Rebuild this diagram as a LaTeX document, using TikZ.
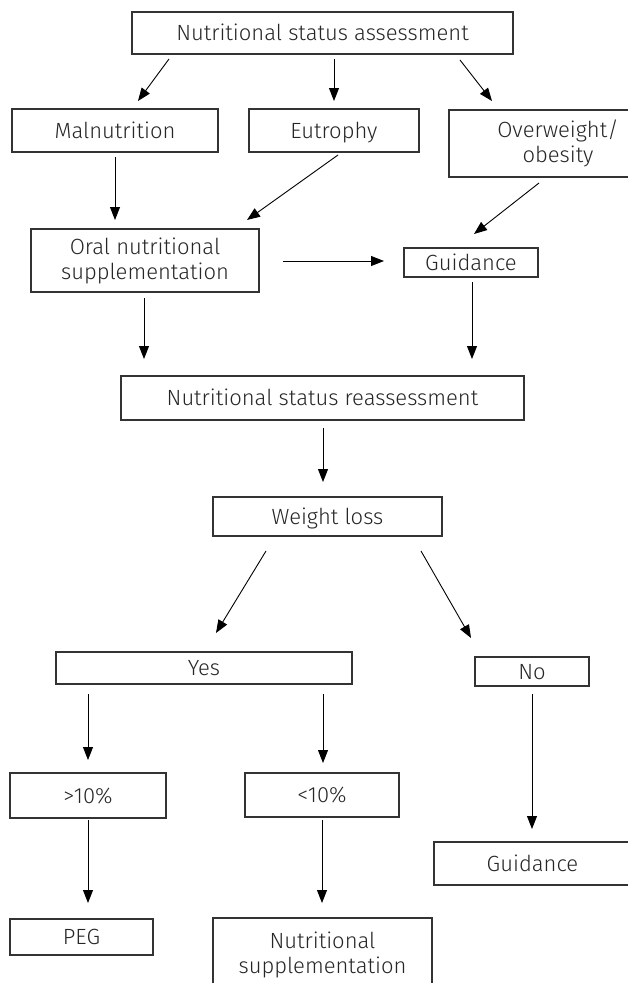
\documentclass[tikz,border=0pt]{standalone}
\usepackage{fontspec}
\setmainfont{Fira Sans}[UprightFont=* Light]
\usetikzlibrary{arrows.meta}
\begin{document}
\begin{tikzpicture}[x=1pt,y=-1pt,
  box/.style={draw=black!80, line width=1.1pt, rectangle, inner sep=0pt, align=center,
    font=\fontsize{22}{25}\selectfont, text=black!85},
  one/.style={box, text height=15pt, text depth=0pt},
  arr/.style={draw=black, line width=0.9pt, -{Triangle[length=13pt,width=10pt]}}]
\useasboundingbox (0,0) rectangle (627,983);
\fill[white] (0,0) rectangle (627,983);

% nodes
\node[one, minimum width=381pt, minimum height=42pt] (top) at (322.5,33) {Nutritional status assessment};
\node[one, minimum width=206pt, minimum height=43pt] (mal) at (115,130.5) {Malnutrition};
\node[one, minimum width=170pt, minimum height=43pt] (eut) at (334,130.5) {Eutrophy};
\node[box, minimum width=218pt, minimum height=67pt] (ovw) at (558,143.5) {Overweight/\\obesity};
\node[box, minimum width=228pt, minimum height=63pt] (oral) at (145,260.5) {Oral nutritional\\supplementation};
\node[one, minimum width=134pt, minimum height=29pt] (g1) at (471,262.5) {Guidance};
\node[one, minimum width=403pt, minimum height=44pt] (reas) at (322.5,398) {Nutritional status reassessment};
\node[one, minimum width=229pt, minimum height=39pt] (wl) at (327.5,516.5) {Weight loss};
\node[one, minimum width=296pt, minimum height=32pt] (yes) at (204,668) {Yes};
\node[one, minimum width=114pt, minimum height=29pt] (no) at (532,671.5) {No};
\node[one, minimum width=156pt, minimum height=45pt] (gt) at (88,795.5) {>10\%};
\node[one, minimum width=154pt, minimum height=44pt] (lt) at (322,795) {<10\%};
\node[one, minimum width=197pt, minimum height=43pt] (g2) at (532.5,863.5) {Guidance};
\node[one, minimum width=143pt, minimum height=36pt] (peg) at (81.5,937) {PEG};
\node[box, minimum width=219pt, minimum height=74pt] (ns) at (322.5,955) {Nutritional\\supplementation};

% connector end points
\coordinate (a1s) at (169,59);  \coordinate (a1e) at (138,101);
\coordinate (a2s) at (334,59);  \coordinate (a2e) at (334,101);
\coordinate (a3s) at (460,60);  \coordinate (a3e) at (492,101);
\coordinate (a4s) at (115,157); \coordinate (a4e) at (115,220);
\coordinate (a5s) at (338,155); \coordinate (a5e) at (247,220);
\coordinate (a6s) at (539,183); \coordinate (a6e) at (474,234);
\coordinate (a7s) at (283,261); \coordinate (a7e) at (384,261);
\coordinate (a8s) at (144,298); \coordinate (a8e) at (144,359);
\coordinate (a9s) at (472,282); \coordinate (a9e) at (472,359);
\coordinate (b1s) at (323,428); \coordinate (b1e) at (323,482);
\coordinate (b2s) at (266,551); \coordinate (b2e) at (216,633);
\coordinate (b3s) at (421,551); \coordinate (b3e) at (471,638);
\coordinate (b4s) at (88,694);  \coordinate (b4e) at (88,760);
\coordinate (b5s) at (323,694); \coordinate (b5e) at (323,763);
\coordinate (b6s) at (88,820);  \coordinate (b6e) at (88,903);
\coordinate (b7s) at (322,820); \coordinate (b7e) at (322,903);
\coordinate (b8s) at (532,694); \coordinate (b8e) at (532,829);

\draw[arr] (a1s) -- (a1e);
\draw[arr] (a2s) -- (a2e);
\draw[arr] (a3s) -- (a3e);
\draw[arr] (a4s) -- (a4e);
\draw[arr] (a5s) -- (a5e);
\draw[arr] (a6s) -- (a6e);
\draw[arr] (a7s) -- (a7e);
\draw[arr] (a8s) -- (a8e);
\draw[arr] (a9s) -- (a9e);
\draw[arr] (b1s) -- (b1e);
\draw[arr] (b2s) -- (b2e);
\draw[arr] (b3s) -- (b3e);
\draw[arr] (b4s) -- (b4e);
\draw[arr] (b5s) -- (b5e);
\draw[arr] (b6s) -- (b6e);
\draw[arr] (b7s) -- (b7e);
\draw[arr] (b8s) -- (b8e);
\end{tikzpicture}
\end{document}
